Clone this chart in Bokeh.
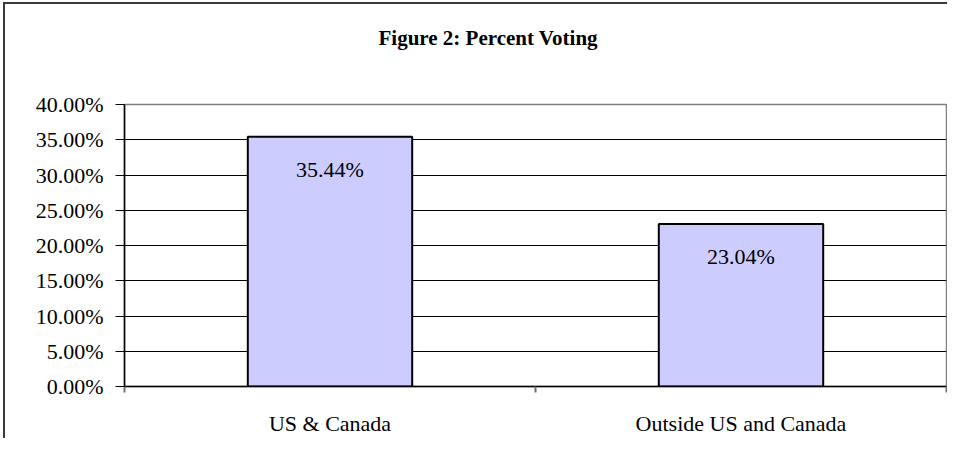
from bokeh.plotting import figure
from bokeh.models import (ColumnDataSource, FixedTicker, NumeralTickFormatter,
                          Range1d, Title)
from bokeh.core.properties import value
from bokeh.embed import file_html
from bokeh.resources import INLINE

categories = ["US & Canada", "Outside US and Canada"]
percent_voting = [0.3544, 0.2304]
y_ticks = [0.0, 0.05, 0.10, 0.15, 0.20, 0.25, 0.30, 0.35, 0.40]
title_text = "Figure 2: Percent Voting"

xs = [i + 0.5 for i in range(len(categories))]
labels = [f"{v * 100:.2f}%" for v in percent_voting]
src = ColumnDataSource(dict(x=xs, top=percent_voting, label=labels))

SERIF = "Liberation Serif"

p = figure(width=947, height=438, output_backend="svg", toolbar_location=None,
           x_range=Range1d(0, len(categories)), y_range=Range1d(0, 0.4),
           min_border_left=124, min_border_right=1, min_border_top=104,
           min_border_bottom=51, title=None)
p.border_fill_color = None
p.styles = {
    "background": ("linear-gradient(#3a3a3a,#3a3a3a) 3px 2px / 2px 100% no-repeat, "
                   "linear-gradient(#3a3a3a,#3a3a3a) 3px 2px / 100% 2px no-repeat, white"),
}

p.background_fill_color = "white"
p.outline_line_color = "#808080"
p.outline_line_width = 1.5

# spacer (closest to the frame), then the real title above it
p.add_layout(Title(text=" ", standoff=52, text_font_size="1px",
                   text_color="white"), "above")
p.add_layout(Title(text=title_text, align="left", offset=254, standoff=0,
                   text_font=SERIF, text_font_size="21px",
                   text_font_style="bold", text_color="black"), "above")

p.vbar(x="x", top="top", width=0.4, source=src, fill_color="#CCCCFF",
       line_color="black", line_width=2)

p.text(x="x", y="top", text="label", source=src, y_offset=20,
       text_align="center", text_baseline="top",
       text_font=value(SERIF), text_font_size="22px", text_color="black")

# y axis
p.yaxis.ticker = FixedTicker(ticks=y_ticks)
p.yaxis.formatter = NumeralTickFormatter(format="0.00%")
p.yaxis.major_tick_out = 9
p.yaxis.major_tick_in = 0
p.yaxis.minor_tick_line_color = None
p.yaxis.axis_line_color = "black"
p.yaxis.axis_line_width = 1.5
p.yaxis.major_tick_line_color = "black"
p.yaxis.major_label_text_font = SERIF
p.yaxis.major_label_text_font_size = "22px"
p.yaxis.major_label_text_color = "black"
p.yaxis.major_label_standoff = 12

# x axis
p.xaxis.ticker = FixedTicker(ticks=xs, minor_ticks=list(range(len(categories) + 1)))
p.xaxis.major_label_overrides = {x: c for x, c in zip(xs, categories)}
p.xaxis.major_tick_out = 0
p.xaxis.major_tick_in = 0
p.xaxis.minor_tick_out = 6
p.xaxis.minor_tick_in = 0
p.xaxis.minor_tick_line_color = "#707070"
p.xaxis.minor_tick_line_width = 2
p.xaxis.axis_line_color = "black"
p.xaxis.axis_line_width = 1.5
p.xaxis.major_label_text_font = SERIF
p.xaxis.major_label_text_font_size = "22px"
p.xaxis.major_label_text_color = "black"
p.xaxis.major_label_standoff = 18

p.xgrid.grid_line_color = None
p.ygrid.grid_line_color = "black"
p.ygrid.grid_line_width = 1

open("out.html", "w").write(file_html(p, INLINE))
